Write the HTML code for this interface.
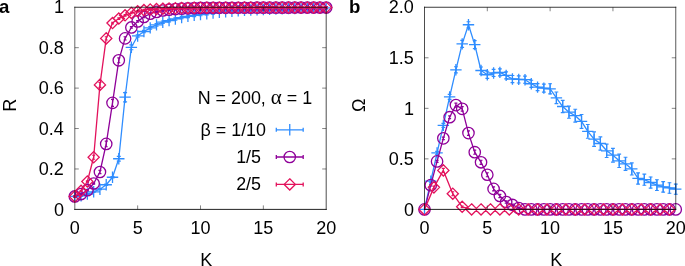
<!DOCTYPE html>
<html lang="en">
<head>
<meta charset="utf-8">
<title>Order parameter R and frequency spread versus coupling K</title>
<style>
html,body{margin:0;padding:0;background:#fff;}
body{width:685px;height:266px;overflow:hidden;}
svg{display:block;}
</style>
</head>
<body>
<svg width="685" height="266" viewBox="0 0 685 266" font-family='"Liberation Sans", Arial, Helvetica, sans-serif' fill="#000">
<rect width="685" height="266" fill="#fff"/>
<g id="panel-a">
<polyline points="74.8,196.46 81.08,195.86 87.37,194.04 93.66,191.81 99.94,189.19 106.22,184.74 112.51,177.26 118.79,158.74 125.08,97.21 131.37,47.28 137.65,35.96 143.94,31.51 150.22,27.87 156.5,24.84 162.79,22.21 169.07,20.59 175.36,18.97 181.64,17.56 187.93,16.35 194.21,15.34 200.5,14.53 206.78,13.72 213.07,13.01 219.36,12.3 225.64,11.7 231.92,11.19 238.21,10.69 244.5,10.28 250.78,9.98 257.06,9.68 263.35,9.47 269.63,9.27 275.92,9.07 282.2,8.87 288.49,8.67 294.77,8.46 301.06,8.36 307.34,8.26 313.63,8.16 319.91,8.06 326.2,7.96" fill="none" stroke="#2f8dff" stroke-width="1.3" stroke-linejoin="round"/>
<path d="M74.8 195.86V197.07M72.8 195.86h4M72.8 197.07h4M81.08 195.25V196.46M79.08 195.25h4M79.08 196.46h4M87.37 193.43V194.64M85.37 193.43h4M85.37 194.64h4M93.66 191.21V192.42M91.66 191.21h4M91.66 192.42h4M99.94 188.58V189.79M97.94 188.58h4M97.94 189.79h4M106.22 184.13V185.34M104.22 184.13h4M104.22 185.34h4M112.51 176.65V177.86M110.51 176.65h4M110.51 177.86h4M118.79 156.32V161.17M116.79 156.32h4M116.79 161.17h4M125.08 92.56V101.86M123.08 92.56h4M123.08 101.86h4M131.37 44.85V49.7M129.37 44.85h4M129.37 49.7h4M137.65 34.74V37.17M135.65 34.74h4M135.65 37.17h4M143.94 30.3V32.72M141.94 30.3h4M141.94 32.72h4M150.22 26.66V29.08M148.22 26.66h4M148.22 29.08h4M156.5 23.62V26.05M154.5 23.62h4M154.5 26.05h4M162.79 21V23.42M160.79 21h4M160.79 23.42h4M169.07 19.38V21.8M167.07 19.38h4M167.07 21.8h4M175.36 17.76V20.19M173.36 17.76h4M173.36 20.19h4M181.64 16.35V18.77M179.64 16.35h4M179.64 18.77h4M187.93 15.13V17.56M185.93 15.13h4M185.93 17.56h4M194.21 14.12V16.55M192.21 14.12h4M192.21 16.55h4M200.5 13.31V15.74M198.5 13.31h4M198.5 15.74h4M206.78 12.51V14.93M204.78 12.51h4M204.78 14.93h4M213.07 11.8V14.22M211.07 11.8h4M211.07 14.22h4M219.36 11.09V13.52M217.36 11.09h4M217.36 13.52h4M225.64 10.48V12.91M223.64 10.48h4M223.64 12.91h4M231.92 9.98V12.4M229.92 9.98h4M229.92 12.4h4M238.21 9.47V11.9M236.21 9.47h4M236.21 11.9h4M244.5 9.07V11.5M242.5 9.07h4M242.5 11.5h4M250.78 8.77V11.19M248.78 8.77h4M248.78 11.19h4M257.06 8.46V10.89M255.06 8.46h4M255.06 10.89h4M263.35 8.26V10.69M261.35 8.26h4M261.35 10.69h4M269.63 8.06V10.48M267.63 8.06h4M267.63 10.48h4M275.92 7.86V10.28M273.92 7.86h4M273.92 10.28h4M282.2 7.65V10.08M280.2 7.65h4M280.2 10.08h4M288.49 7.45V9.88M286.49 7.45h4M286.49 9.88h4M294.77 7.25V9.68M292.77 7.25h4M292.77 9.68h4M301.06 7.15V9.57M299.06 7.15h4M299.06 9.57h4M307.34 7.05V9.47M305.34 7.05h4M305.34 9.47h4M313.63 6.95V9.37M311.63 6.95h4M311.63 9.37h4M319.91 6.85V9.27M317.91 6.85h4M317.91 9.27h4M326.2 6.74V9.17M324.2 6.74h4M324.2 9.17h4" fill="none" stroke="#2f8dff" stroke-width="1.15"/>
<path d="M69.1 196.46h11.4M74.8 190.76v11.4M75.38 195.86h11.4M81.08 190.16v11.4M81.67 194.04h11.4M87.37 188.34v11.4M87.95 191.81h11.4M93.66 186.11v11.4M94.24 189.19h11.4M99.94 183.49v11.4M100.52 184.74h11.4M106.22 179.04v11.4M106.81 177.26h11.4M112.51 171.56v11.4M113.09 158.74h11.4M118.79 153.04v11.4M119.38 97.21h11.4M125.08 91.51v11.4M125.67 47.28h11.4M131.37 41.58v11.4M131.95 35.96h11.4M137.65 30.26v11.4M138.24 31.51h11.4M143.94 25.81v11.4M144.52 27.87h11.4M150.22 22.17v11.4M150.81 24.84h11.4M156.5 19.14v11.4M157.09 22.21h11.4M162.79 16.51v11.4M163.38 20.59h11.4M169.07 14.89v11.4M169.66 18.97h11.4M175.36 13.27v11.4M175.94 17.56h11.4M181.64 11.86v11.4M182.23 16.35h11.4M187.93 10.65v11.4M188.51 15.34h11.4M194.21 9.64v11.4M194.8 14.53h11.4M200.5 8.83v11.4M201.08 13.72h11.4M206.78 8.02v11.4M207.37 13.01h11.4M213.07 7.31v11.4M213.66 12.3h11.4M219.36 6.6v11.4M219.94 11.7h11.4M225.64 6v11.4M226.22 11.19h11.4M231.92 5.49v11.4M232.51 10.69h11.4M238.21 4.99v11.4M238.8 10.28h11.4M244.5 4.58v11.4M245.08 9.98h11.4M250.78 4.28v11.4M251.37 9.68h11.4M257.06 3.98v11.4M257.65 9.47h11.4M263.35 3.77v11.4M263.94 9.27h11.4M269.63 3.57v11.4M270.22 9.07h11.4M275.92 3.37v11.4M276.5 8.87h11.4M282.2 3.17v11.4M282.79 8.67h11.4M288.49 2.97v11.4M289.07 8.46h11.4M294.77 2.76v11.4M295.36 8.36h11.4M301.06 2.66v11.4M301.64 8.26h11.4M307.34 2.56v11.4M307.93 8.16h11.4M313.63 2.46v11.4M314.21 8.06h11.4M319.91 2.36v11.4M320.5 7.96h11.4M326.2 2.26v11.4" fill="none" stroke="#2f8dff" stroke-width="1.3"/>
<polyline points="74.8,196.46 81.08,194.04 87.37,190.2 93.66,183.52 99.94,172 106.22,143.9 112.51,102.87 118.79,60.31 125.08,38.38 131.37,27.47 137.65,21.4 143.94,16.95 150.22,13.72 156.5,11.9 162.79,10.48 169.07,9.68 175.36,9.07 181.64,8.67 187.93,8.36 194.21,8.16 200.5,7.96 206.78,7.86 213.07,7.86 219.36,7.86 225.64,7.86 231.92,7.76 238.21,7.76 244.5,7.76 250.78,7.76 257.06,7.65 263.35,7.65 269.63,7.65 275.92,7.65 282.2,7.65 288.49,7.65 294.77,7.55 301.06,7.55 307.34,7.55 313.63,7.55 319.91,7.55 326.2,7.55" fill="none" stroke="#8f0099" stroke-width="1.3" stroke-linejoin="round"/>
<path d="M74.8 195.86V197.07M73.3 195.86h3M73.3 197.07h3M81.08 193.43V194.64M79.58 193.43h3M79.58 194.64h3M87.37 189.59V190.8M85.87 189.59h3M85.87 190.8h3M93.66 182.92V184.13M92.16 182.92h3M92.16 184.13h3M99.94 170.39V173.62M98.44 170.39h3M98.44 173.62h3M106.22 141.07V146.73M104.72 141.07h3M104.72 146.73h3M112.51 99.43V106.3M111.01 99.43h3M111.01 106.3h3M118.79 57.89V62.74M117.29 57.89h3M117.29 62.74h3M125.08 36.76V40M123.58 36.76h3M123.58 40h3M131.37 26.66V28.27M129.87 26.66h3M129.87 28.27h3M137.65 20.59V22.21M136.15 20.59h3M136.15 22.21h3M143.94 16.14V17.76M142.44 16.14h3M142.44 17.76h3M150.22 12.91V14.53M148.72 12.91h3M148.72 14.53h3M156.5 11.09V12.71M155 11.09h3M155 12.71h3M162.79 9.68V11.29M161.29 9.68h3M161.29 11.29h3M169.07 8.87V10.48M167.57 8.87h3M167.57 10.48h3M175.36 8.26V9.88M173.86 8.26h3M173.86 9.88h3M181.64 7.86V9.47M180.14 7.86h3M180.14 9.47h3M187.93 7.55V9.17M186.43 7.55h3M186.43 9.17h3M194.21 7.35V8.97M192.71 7.35h3M192.71 8.97h3M200.5 7.15V8.77M199 7.15h3M199 8.77h3M206.78 7.05V8.67M205.28 7.05h3M205.28 8.67h3M213.07 7.05V8.67M211.57 7.05h3M211.57 8.67h3M219.36 7.05V8.67M217.86 7.05h3M217.86 8.67h3M225.64 7.05V8.67M224.14 7.05h3M224.14 8.67h3M231.92 6.95V8.56M230.42 6.95h3M230.42 8.56h3M238.21 6.95V8.56M236.71 6.95h3M236.71 8.56h3M244.5 6.95V8.56M243 6.95h3M243 8.56h3M250.78 6.95V8.56M249.28 6.95h3M249.28 8.56h3M257.06 6.85V8.46M255.56 6.85h3M255.56 8.46h3M263.35 6.85V8.46M261.85 6.85h3M261.85 8.46h3M269.63 6.85V8.46M268.13 6.85h3M268.13 8.46h3M275.92 6.85V8.46M274.42 6.85h3M274.42 8.46h3M282.2 6.85V8.46M280.7 6.85h3M280.7 8.46h3M288.49 6.85V8.46M286.99 6.85h3M286.99 8.46h3M294.77 6.74V8.36M293.27 6.74h3M293.27 8.36h3M301.06 6.74V8.36M299.56 6.74h3M299.56 8.36h3M307.34 6.74V8.36M305.84 6.74h3M305.84 8.36h3M313.63 6.74V8.36M312.13 6.74h3M312.13 8.36h3M319.91 6.74V8.36M318.41 6.74h3M318.41 8.36h3M326.2 6.74V8.36M324.7 6.74h3M324.7 8.36h3" fill="none" stroke="#8f0099" stroke-width="1.15"/>
<g fill="none" stroke="#8f0099" stroke-width="1.3"><circle cx="74.8" cy="196.46" r="5.7"/><circle cx="81.08" cy="194.04" r="5.7"/><circle cx="87.37" cy="190.2" r="5.7"/><circle cx="93.66" cy="183.52" r="5.7"/><circle cx="99.94" cy="172" r="5.7"/><circle cx="106.22" cy="143.9" r="5.7"/><circle cx="112.51" cy="102.87" r="5.7"/><circle cx="118.79" cy="60.31" r="5.7"/><circle cx="125.08" cy="38.38" r="5.7"/><circle cx="131.37" cy="27.47" r="5.7"/><circle cx="137.65" cy="21.4" r="5.7"/><circle cx="143.94" cy="16.95" r="5.7"/><circle cx="150.22" cy="13.72" r="5.7"/><circle cx="156.5" cy="11.9" r="5.7"/><circle cx="162.79" cy="10.48" r="5.7"/><circle cx="169.07" cy="9.68" r="5.7"/><circle cx="175.36" cy="9.07" r="5.7"/><circle cx="181.64" cy="8.67" r="5.7"/><circle cx="187.93" cy="8.36" r="5.7"/><circle cx="194.21" cy="8.16" r="5.7"/><circle cx="200.5" cy="7.96" r="5.7"/><circle cx="206.78" cy="7.86" r="5.7"/><circle cx="213.07" cy="7.86" r="5.7"/><circle cx="219.36" cy="7.86" r="5.7"/><circle cx="225.64" cy="7.86" r="5.7"/><circle cx="231.92" cy="7.76" r="5.7"/><circle cx="238.21" cy="7.76" r="5.7"/><circle cx="244.5" cy="7.76" r="5.7"/><circle cx="250.78" cy="7.76" r="5.7"/><circle cx="257.06" cy="7.65" r="5.7"/><circle cx="263.35" cy="7.65" r="5.7"/><circle cx="269.63" cy="7.65" r="5.7"/><circle cx="275.92" cy="7.65" r="5.7"/><circle cx="282.2" cy="7.65" r="5.7"/><circle cx="288.49" cy="7.65" r="5.7"/><circle cx="294.77" cy="7.55" r="5.7"/><circle cx="301.06" cy="7.55" r="5.7"/><circle cx="307.34" cy="7.55" r="5.7"/><circle cx="313.63" cy="7.55" r="5.7"/><circle cx="319.91" cy="7.55" r="5.7"/><circle cx="326.2" cy="7.55" r="5.7"/></g>
<polyline points="74.8,196.46 81.08,190.8 87.37,181.5 93.66,157.25 99.94,84.88 106.22,38.38 112.51,23.02 118.79,18.57 125.08,15.34 131.37,12.91 137.65,11.29 143.94,10.08 150.22,9.47 156.5,9.07 162.79,8.67 169.07,8.46 175.36,8.26 181.64,8.06 187.93,7.96 194.21,7.86 200.5,7.76 206.78,7.65 213.07,7.65 219.36,7.65 225.64,7.65 231.92,7.65 238.21,7.65 244.5,7.55 250.78,7.55 257.06,7.55 263.35,7.55 269.63,7.55 275.92,7.55 282.2,7.45 288.49,7.45 294.77,7.45 301.06,7.45 307.34,7.45 313.63,7.45 319.91,7.45 326.2,7.45" fill="none" stroke="#e3125c" stroke-width="1.3" stroke-linejoin="round"/>
<path d="M74.8 195.86V197.07M73.3 195.86h3M73.3 197.07h3M81.08 190.2V191.41M79.58 190.2h3M79.58 191.41h3M87.37 180.9V182.11M85.87 180.9h3M85.87 182.11h3M93.66 155.22V159.27M92.16 155.22h3M92.16 159.27h3M99.94 82.45V87.3M98.44 82.45h3M98.44 87.3h3M106.22 36.76V40M104.72 36.76h3M104.72 40h3M112.51 22.21V23.83M111.01 22.21h3M111.01 23.83h3M118.79 17.76V19.38M117.29 17.76h3M117.29 19.38h3M125.08 14.53V16.14M123.58 14.53h3M123.58 16.14h3M131.37 12.1V13.72M129.87 12.1h3M129.87 13.72h3M137.65 10.48V12.1M136.15 10.48h3M136.15 12.1h3M143.94 9.27V10.89M142.44 9.27h3M142.44 10.89h3M150.22 8.67V10.28M148.72 8.67h3M148.72 10.28h3M156.5 8.26V9.88M155 8.26h3M155 9.88h3M162.79 7.86V9.47M161.29 7.86h3M161.29 9.47h3M169.07 7.65V9.27M167.57 7.65h3M167.57 9.27h3M175.36 7.45V9.07M173.86 7.45h3M173.86 9.07h3M181.64 7.25V8.87M180.14 7.25h3M180.14 8.87h3M187.93 7.15V8.77M186.43 7.15h3M186.43 8.77h3M194.21 7.05V8.67M192.71 7.05h3M192.71 8.67h3M200.5 6.95V8.56M199 6.95h3M199 8.56h3M206.78 6.85V8.46M205.28 6.85h3M205.28 8.46h3M213.07 6.85V8.46M211.57 6.85h3M211.57 8.46h3M219.36 6.85V8.46M217.86 6.85h3M217.86 8.46h3M225.64 6.85V8.46M224.14 6.85h3M224.14 8.46h3M231.92 6.85V8.46M230.42 6.85h3M230.42 8.46h3M238.21 6.85V8.46M236.71 6.85h3M236.71 8.46h3M244.5 6.74V8.36M243 6.74h3M243 8.36h3M250.78 6.74V8.36M249.28 6.74h3M249.28 8.36h3M257.06 6.74V8.36M255.56 6.74h3M255.56 8.36h3M263.35 6.74V8.36M261.85 6.74h3M261.85 8.36h3M269.63 6.74V8.36M268.13 6.74h3M268.13 8.36h3M275.92 6.74V8.36M274.42 6.74h3M274.42 8.36h3M282.2 6.64V8.26M280.7 6.64h3M280.7 8.26h3M288.49 6.64V8.26M286.99 6.64h3M286.99 8.26h3M294.77 6.64V8.26M293.27 6.64h3M293.27 8.26h3M301.06 6.64V8.26M299.56 6.64h3M299.56 8.26h3M307.34 6.64V8.26M305.84 6.64h3M305.84 8.26h3M313.63 6.64V8.26M312.13 6.64h3M312.13 8.26h3M319.91 6.64V8.26M318.41 6.64h3M318.41 8.26h3M326.2 6.64V8.26M324.7 6.64h3M324.7 8.26h3" fill="none" stroke="#e3125c" stroke-width="1.15"/>
<path d="M74.8 190.86l5.6 5.6l-5.6 5.6l-5.6 -5.6zM81.08 185.2l5.6 5.6l-5.6 5.6l-5.6 -5.6zM87.37 175.9l5.6 5.6l-5.6 5.6l-5.6 -5.6zM93.66 151.65l5.6 5.6l-5.6 5.6l-5.6 -5.6zM99.94 79.28l5.6 5.6l-5.6 5.6l-5.6 -5.6zM106.22 32.78l5.6 5.6l-5.6 5.6l-5.6 -5.6zM112.51 17.42l5.6 5.6l-5.6 5.6l-5.6 -5.6zM118.79 12.97l5.6 5.6l-5.6 5.6l-5.6 -5.6zM125.08 9.74l5.6 5.6l-5.6 5.6l-5.6 -5.6zM131.37 7.31l5.6 5.6l-5.6 5.6l-5.6 -5.6zM137.65 5.69l5.6 5.6l-5.6 5.6l-5.6 -5.6zM143.94 4.48l5.6 5.6l-5.6 5.6l-5.6 -5.6zM150.22 3.87l5.6 5.6l-5.6 5.6l-5.6 -5.6zM156.5 3.47l5.6 5.6l-5.6 5.6l-5.6 -5.6zM162.79 3.07l5.6 5.6l-5.6 5.6l-5.6 -5.6zM169.07 2.86l5.6 5.6l-5.6 5.6l-5.6 -5.6zM175.36 2.66l5.6 5.6l-5.6 5.6l-5.6 -5.6zM181.64 2.46l5.6 5.6l-5.6 5.6l-5.6 -5.6zM187.93 2.36l5.6 5.6l-5.6 5.6l-5.6 -5.6zM194.21 2.26l5.6 5.6l-5.6 5.6l-5.6 -5.6zM200.5 2.16l5.6 5.6l-5.6 5.6l-5.6 -5.6zM206.78 2.05l5.6 5.6l-5.6 5.6l-5.6 -5.6zM213.07 2.05l5.6 5.6l-5.6 5.6l-5.6 -5.6zM219.36 2.05l5.6 5.6l-5.6 5.6l-5.6 -5.6zM225.64 2.05l5.6 5.6l-5.6 5.6l-5.6 -5.6zM231.92 2.05l5.6 5.6l-5.6 5.6l-5.6 -5.6zM238.21 2.05l5.6 5.6l-5.6 5.6l-5.6 -5.6zM244.5 1.95l5.6 5.6l-5.6 5.6l-5.6 -5.6zM250.78 1.95l5.6 5.6l-5.6 5.6l-5.6 -5.6zM257.06 1.95l5.6 5.6l-5.6 5.6l-5.6 -5.6zM263.35 1.95l5.6 5.6l-5.6 5.6l-5.6 -5.6zM269.63 1.95l5.6 5.6l-5.6 5.6l-5.6 -5.6zM275.92 1.95l5.6 5.6l-5.6 5.6l-5.6 -5.6zM282.2 1.85l5.6 5.6l-5.6 5.6l-5.6 -5.6zM288.49 1.85l5.6 5.6l-5.6 5.6l-5.6 -5.6zM294.77 1.85l5.6 5.6l-5.6 5.6l-5.6 -5.6zM301.06 1.85l5.6 5.6l-5.6 5.6l-5.6 -5.6zM307.34 1.85l5.6 5.6l-5.6 5.6l-5.6 -5.6zM313.63 1.85l5.6 5.6l-5.6 5.6l-5.6 -5.6zM319.91 1.85l5.6 5.6l-5.6 5.6l-5.6 -5.6zM326.2 1.85l5.6 5.6l-5.6 5.6l-5.6 -5.6z" fill="none" stroke="#e3125c" stroke-width="1.3" stroke-linejoin="miter"/>
<path d="M137.65 209.4v-4M137.65 7.25v4M200.5 209.4v-4M200.5 7.25v4M263.35 209.4v-4M263.35 7.25v4M74.8 168.97h4M326.2 168.97h-4M74.8 128.54h4M326.2 128.54h-4M74.8 88.11h4M326.2 88.11h-4M74.8 47.68h4M326.2 47.68h-4" fill="none" stroke="#0a0a0a" stroke-width="0.5"/><g fill="none" stroke="#0a0a0a" stroke-linecap="square"><path d="M74.8 7.25V209.4" stroke-width="0.62"/><path d="M326.2 7.25V209.4" stroke-width="0.73"/><path d="M74.8 7.25H326.2" stroke-width="0.8"/><path d="M74.8 209.4H326.2" stroke-width="0.9"/></g>
<text x="63.9" y="215.7" font-size="18" text-anchor="end">0</text>
<text x="63.9" y="175.27" font-size="18" text-anchor="end">0.2</text>
<text x="63.9" y="134.84" font-size="18" text-anchor="end">0.4</text>
<text x="63.9" y="94.41" font-size="18" text-anchor="end">0.6</text>
<text x="63.9" y="53.98" font-size="18" text-anchor="end">0.8</text>
<text x="63.9" y="12.95" font-size="18" text-anchor="end">1</text>
<text x="74.8" y="233.7" font-size="18" text-anchor="middle">0</text>
<text x="137.65" y="233.7" font-size="18" text-anchor="middle">5</text>
<text x="200.5" y="233.7" font-size="18" text-anchor="middle">10</text>
<text x="263.35" y="233.7" font-size="18" text-anchor="middle">15</text>
<text x="326.2" y="233.7" font-size="18" text-anchor="middle">20</text>
<text x="200.3" y="265.7" font-size="18" text-anchor="start">K</text>
<text transform="translate(15.9 105.3) rotate(-90)" font-size="18" text-anchor="middle">R</text>
<text x="-0.9" y="13.45" font-size="18.6" text-anchor="start" font-weight="bold">a</text>
<text x="197.7" y="103.7" font-size="17.9" text-anchor="start">N = 200, <tspan font-family='"Liberation Serif", serif' font-size="21">α</tspan> = 1</text>
<text x="266" y="135.8" font-size="17.9" text-anchor="end">β = 1/10</text>
<text x="261" y="163" font-size="17.9" text-anchor="end">1/5</text>
<text x="261" y="190.2" font-size="17.9" text-anchor="end">2/5</text>
<path d="M276.3 129.8H303.2M276.3 127.8v4M303.2 127.8v4" fill="none" stroke="#2f8dff" stroke-width="1.3"/>
<path d="M276.3 157H303.2M276.3 155v4M303.2 155v4" fill="none" stroke="#8f0099" stroke-width="1.3"/>
<path d="M276.3 184.4H303.2M276.3 182.4v4M303.2 182.4v4" fill="none" stroke="#e3125c" stroke-width="1.3"/>
<path d="M289.75 124.1v11.4" fill="none" stroke="#2f8dff" stroke-width="1.3"/>
<circle cx="289.75" cy="157" r="5.7" fill="none" stroke="#8f0099" stroke-width="1.3"/>
<path d="M289.75 178.8l5.6 5.6l-5.6 5.6l-5.6 -5.6z" fill="none" stroke="#e3125c" stroke-width="1.3"/>
</g>
<g id="panel-b">
<polyline points="424.5,209.4 430.78,181.1 437.06,152.9 443.34,125.41 449.62,96.9 455.91,69.82 462.19,43.84 468.47,24.74 474.75,44.65 481.03,70.52 487.31,74.77 493.59,72.95 499.88,72.34 506.16,75.37 512.44,79.01 518.72,79.42 525,79.72 531.28,83.76 537.56,87.1 543.84,88.11 550.12,88.82 556.41,97.81 562.69,106.51 568.97,112.17 575.25,115.7 581.53,121.46 587.81,131.37 594.09,139.15 600.38,143.5 606.66,150.78 612.94,155.22 619.22,160.78 625.5,163.82 631.78,168.97 638.06,178.47 644.34,179.68 650.62,182.51 656.91,185.14 663.19,186.86 669.47,187.97 675.75,189.19" fill="none" stroke="#2f8dff" stroke-width="1.3" stroke-linejoin="round"/>
<path d="M430.78 180.09V182.11M428.88 180.09h3.8M428.88 182.11h3.8M437.06 151.38V154.42M435.16 151.38h3.8M435.16 154.42h3.8M443.34 123.39V127.43M441.44 123.39h3.8M441.44 127.43h3.8M449.62 94.38V99.43M447.73 94.38h3.8M447.73 99.43h3.8M455.91 66.78V72.85M454.01 66.78h3.8M454.01 72.85h3.8M462.19 40.3V47.38M460.29 40.3h3.8M460.29 47.38h3.8M468.47 21.7V27.77M466.57 21.7h3.8M466.57 27.77h3.8M474.75 40.6V48.69M472.85 40.6h3.8M472.85 48.69h3.8M481.03 66.99V74.06M479.13 66.99h3.8M479.13 74.06h3.8M487.31 71.23V78.31M485.41 71.23h3.8M485.41 78.31h3.8M493.59 69.41V76.49M491.69 69.41h3.8M491.69 76.49h3.8M499.88 68.8V75.88M497.98 68.8h3.8M497.98 75.88h3.8M506.16 71.84V78.91M504.26 71.84h3.8M504.26 78.91h3.8M512.44 75.48V82.55M510.54 75.48h3.8M510.54 82.55h3.8M518.72 75.88V82.96M516.82 75.88h3.8M516.82 82.96h3.8M525 76.18V83.26M523.1 76.18h3.8M523.1 83.26h3.8M531.28 80.23V87.3M529.38 80.23h3.8M529.38 87.3h3.8M537.56 83.56V90.64M535.66 83.56h3.8M535.66 90.64h3.8M543.84 84.07V92.15M541.94 84.07h3.8M541.94 92.15h3.8M550.12 83.76V93.87M548.23 83.76h3.8M548.23 93.87h3.8M556.41 91.95V103.68M554.51 91.95h3.8M554.51 103.68h3.8M562.69 100.44V112.57M560.79 100.44h3.8M560.79 112.57h3.8M568.97 106.1V118.23M567.07 106.1h3.8M567.07 118.23h3.8M575.25 109.23V122.17M573.35 109.23h3.8M573.35 122.17h3.8M581.53 114.49V128.44M579.63 114.49h3.8M579.63 128.44h3.8M587.81 124.5V138.24M585.91 124.5h3.8M585.91 138.24h3.8M594.09 131.88V146.43M592.19 131.88h3.8M592.19 146.43h3.8M600.38 136.83V150.17M598.48 136.83h3.8M598.48 150.17h3.8M606.66 144.11V157.45M604.76 144.11h3.8M604.76 157.45h3.8M612.94 148.35V162.1M611.04 148.35h3.8M611.04 162.1h3.8M619.22 154.11V167.45M617.32 154.11h3.8M617.32 167.45h3.8M625.5 157.25V170.39M623.6 157.25h3.8M623.6 170.39h3.8M631.78 162.91V175.03M629.88 162.91h3.8M629.88 175.03h3.8M638.06 172.81V184.13M636.16 172.81h3.8M636.16 184.13h3.8M644.34 174.12V185.24M642.44 174.12h3.8M642.44 185.24h3.8M650.62 176.95V188.07M648.73 176.95h3.8M648.73 188.07h3.8M656.91 179.79V190.5M655.01 179.79h3.8M655.01 190.5h3.8M663.19 181.6V192.12M661.29 181.6h3.8M661.29 192.12h3.8M669.47 182.72V193.23M667.57 182.72h3.8M667.57 193.23h3.8M675.75 184.13V194.24M673.85 184.13h3.8M673.85 194.24h3.8" fill="none" stroke="#2f8dff" stroke-width="1.15"/>
<path d="M418.8 209.4h11.4M424.5 203.7v11.4M425.08 181.1h11.4M430.78 175.4v11.4M431.36 152.9h11.4M437.06 147.2v11.4M437.64 125.41h11.4M443.34 119.71v11.4M443.93 96.9h11.4M449.62 91.2v11.4M450.21 69.82h11.4M455.91 64.12v11.4M456.49 43.84h11.4M462.19 38.14v11.4M462.77 24.74h11.4M468.47 19.04v11.4M469.05 44.65h11.4M474.75 38.95v11.4M475.33 70.52h11.4M481.03 64.82v11.4M481.61 74.77h11.4M487.31 69.07v11.4M487.89 72.95h11.4M493.59 67.25v11.4M494.18 72.34h11.4M499.88 66.64v11.4M500.46 75.37h11.4M506.16 69.67v11.4M506.74 79.01h11.4M512.44 73.31v11.4M513.02 79.42h11.4M518.72 73.72v11.4M519.3 79.72h11.4M525 74.02v11.4M525.58 83.76h11.4M531.28 78.06v11.4M531.86 87.1h11.4M537.56 81.4v11.4M538.14 88.11h11.4M543.84 82.41v11.4M544.42 88.82h11.4M550.12 83.12v11.4M550.71 97.81h11.4M556.41 92.11v11.4M556.99 106.51h11.4M562.69 100.81v11.4M563.27 112.17h11.4M568.97 106.47v11.4M569.55 115.7h11.4M575.25 110v11.4M575.83 121.46h11.4M581.53 115.76v11.4M582.11 131.37h11.4M587.81 125.67v11.4M588.39 139.15h11.4M594.09 133.45v11.4M594.67 143.5h11.4M600.38 137.8v11.4M600.96 150.78h11.4M606.66 145.08v11.4M607.24 155.22h11.4M612.94 149.52v11.4M613.52 160.78h11.4M619.22 155.08v11.4M619.8 163.82h11.4M625.5 158.12v11.4M626.08 168.97h11.4M631.78 163.27v11.4M632.36 178.47h11.4M638.06 172.77v11.4M638.64 179.68h11.4M644.34 173.98v11.4M644.92 182.51h11.4M650.62 176.81v11.4M651.21 185.14h11.4M656.91 179.44v11.4M657.49 186.86h11.4M663.19 181.16v11.4M663.77 187.97h11.4M669.47 182.27v11.4M670.05 189.19h11.4M675.75 183.49v11.4" fill="none" stroke="#2f8dff" stroke-width="1.3"/>
<polyline points="424.5,209.4 430.78,185.14 437.06,161.39 443.34,138.34 449.62,117.22 455.91,105.09 462.19,108.83 468.47,133.09 474.75,152.19 481.03,162.3 487.31,174.73 493.59,188.88 499.88,195.96 506.16,202.02 512.44,204.95 518.72,207.98 525,209.4 531.28,209.4 537.56,209.4 543.84,209.4 550.12,209.4 556.41,209.4 562.69,209.4 568.97,209.4 575.25,209.4 581.53,209.4 587.81,209.4 594.09,209.4 600.38,209.4 606.66,209.4 612.94,209.4 619.22,209.4 625.5,209.4 631.78,209.4 638.06,209.4 644.34,209.4 650.62,209.4 656.91,209.4 663.19,209.4 669.47,209.4 675.75,209.4" fill="none" stroke="#8f0099" stroke-width="1.3" stroke-linejoin="round"/>
<path d="M430.78 184.33V185.95M429.28 184.33h3M429.28 185.95h3M437.06 160.38V162.4M435.56 160.38h3M435.56 162.4h3M443.34 137.13V139.56M441.84 137.13h3M441.84 139.56h3M449.62 115.8V118.63M448.12 115.8h3M448.12 118.63h3M455.91 103.07V107.11M454.41 103.07h3M454.41 107.11h3M462.19 106.61V111.05M460.69 106.61h3M460.69 111.05h3M468.47 130.86V135.31M466.97 130.86h3M466.97 135.31h3M474.75 150.17V154.21M473.25 150.17h3M473.25 154.21h3M481.03 160.28V164.32M479.53 160.28h3M479.53 164.32h3M487.31 172.71V176.75M485.81 172.71h3M485.81 176.75h3M493.59 186.86V190.9M492.09 186.86h3M492.09 190.9h3M499.88 194.34V197.57M498.38 194.34h3M498.38 197.57h3M506.16 200.81V203.23M504.66 200.81h3M504.66 203.23h3M512.44 204.14V205.76M510.94 204.14h3M510.94 205.76h3M518.72 207.48V208.49M517.22 207.48h3M517.22 208.49h3" fill="none" stroke="#8f0099" stroke-width="1.15"/>
<g fill="none" stroke="#8f0099" stroke-width="1.3"><circle cx="424.5" cy="209.4" r="5.7"/><circle cx="430.78" cy="185.14" r="5.7"/><circle cx="437.06" cy="161.39" r="5.7"/><circle cx="443.34" cy="138.34" r="5.7"/><circle cx="449.62" cy="117.22" r="5.7"/><circle cx="455.91" cy="105.09" r="5.7"/><circle cx="462.19" cy="108.83" r="5.7"/><circle cx="468.47" cy="133.09" r="5.7"/><circle cx="474.75" cy="152.19" r="5.7"/><circle cx="481.03" cy="162.3" r="5.7"/><circle cx="487.31" cy="174.73" r="5.7"/><circle cx="493.59" cy="188.88" r="5.7"/><circle cx="499.88" cy="195.96" r="5.7"/><circle cx="506.16" cy="202.02" r="5.7"/><circle cx="512.44" cy="204.95" r="5.7"/><circle cx="518.72" cy="207.98" r="5.7"/><circle cx="525" cy="209.4" r="5.7"/><circle cx="531.28" cy="209.4" r="5.7"/><circle cx="537.56" cy="209.4" r="5.7"/><circle cx="543.84" cy="209.4" r="5.7"/><circle cx="550.12" cy="209.4" r="5.7"/><circle cx="556.41" cy="209.4" r="5.7"/><circle cx="562.69" cy="209.4" r="5.7"/><circle cx="568.97" cy="209.4" r="5.7"/><circle cx="575.25" cy="209.4" r="5.7"/><circle cx="581.53" cy="209.4" r="5.7"/><circle cx="587.81" cy="209.4" r="5.7"/><circle cx="594.09" cy="209.4" r="5.7"/><circle cx="600.38" cy="209.4" r="5.7"/><circle cx="606.66" cy="209.4" r="5.7"/><circle cx="612.94" cy="209.4" r="5.7"/><circle cx="619.22" cy="209.4" r="5.7"/><circle cx="625.5" cy="209.4" r="5.7"/><circle cx="631.78" cy="209.4" r="5.7"/><circle cx="638.06" cy="209.4" r="5.7"/><circle cx="644.34" cy="209.4" r="5.7"/><circle cx="650.62" cy="209.4" r="5.7"/><circle cx="656.91" cy="209.4" r="5.7"/><circle cx="663.19" cy="209.4" r="5.7"/><circle cx="669.47" cy="209.4" r="5.7"/><circle cx="675.75" cy="209.4" r="5.7"/></g>
<polyline points="424.5,209.4 433.92,187.37 443.34,170.39 452.77,193.73 462.19,206.77 471.61,209.4 481.03,209.4 490.45,209.4 499.88,209.4 509.3,209.4 518.72,209.4 528.14,209.4 537.56,209.4 546.98,209.4 556.41,209.4 565.83,209.4 575.25,209.4 584.67,209.4 594.09,209.4 603.52,209.4 612.94,209.4 622.36,209.4 631.78,209.4 641.2,209.4 650.62,209.4 660.05,209.4 669.47,209.4" fill="none" stroke="#e3125c" stroke-width="1.3" stroke-linejoin="round"/>
<path d="M433.92 186.15V188.58M432.42 186.15h3M432.42 188.58h3M443.34 168.36V172.41M441.84 168.36h3M441.84 172.41h3M452.77 191.71V195.75M451.27 191.71h3M451.27 195.75h3M462.19 205.96V207.58M460.69 205.96h3M460.69 207.58h3" fill="none" stroke="#e3125c" stroke-width="1.15"/>
<path d="M424.5 203.8l5.6 5.6l-5.6 5.6l-5.6 -5.6zM433.92 181.77l5.6 5.6l-5.6 5.6l-5.6 -5.6zM443.34 164.79l5.6 5.6l-5.6 5.6l-5.6 -5.6zM452.77 188.13l5.6 5.6l-5.6 5.6l-5.6 -5.6zM462.19 201.17l5.6 5.6l-5.6 5.6l-5.6 -5.6zM471.61 203.8l5.6 5.6l-5.6 5.6l-5.6 -5.6zM481.03 203.8l5.6 5.6l-5.6 5.6l-5.6 -5.6zM490.45 203.8l5.6 5.6l-5.6 5.6l-5.6 -5.6zM499.88 203.8l5.6 5.6l-5.6 5.6l-5.6 -5.6zM509.3 203.8l5.6 5.6l-5.6 5.6l-5.6 -5.6zM518.72 203.8l5.6 5.6l-5.6 5.6l-5.6 -5.6zM528.14 203.8l5.6 5.6l-5.6 5.6l-5.6 -5.6zM537.56 203.8l5.6 5.6l-5.6 5.6l-5.6 -5.6zM546.98 203.8l5.6 5.6l-5.6 5.6l-5.6 -5.6zM556.41 203.8l5.6 5.6l-5.6 5.6l-5.6 -5.6zM565.83 203.8l5.6 5.6l-5.6 5.6l-5.6 -5.6zM575.25 203.8l5.6 5.6l-5.6 5.6l-5.6 -5.6zM584.67 203.8l5.6 5.6l-5.6 5.6l-5.6 -5.6zM594.09 203.8l5.6 5.6l-5.6 5.6l-5.6 -5.6zM603.52 203.8l5.6 5.6l-5.6 5.6l-5.6 -5.6zM612.94 203.8l5.6 5.6l-5.6 5.6l-5.6 -5.6zM622.36 203.8l5.6 5.6l-5.6 5.6l-5.6 -5.6zM631.78 203.8l5.6 5.6l-5.6 5.6l-5.6 -5.6zM641.2 203.8l5.6 5.6l-5.6 5.6l-5.6 -5.6zM650.62 203.8l5.6 5.6l-5.6 5.6l-5.6 -5.6zM660.05 203.8l5.6 5.6l-5.6 5.6l-5.6 -5.6zM669.47 203.8l5.6 5.6l-5.6 5.6l-5.6 -5.6z" fill="none" stroke="#e3125c" stroke-width="1.3" stroke-linejoin="miter"/>
<path d="M487.31 209.4v-4M487.31 7.25v4M550.12 209.4v-4M550.12 7.25v4M612.94 209.4v-4M612.94 7.25v4M424.5 158.86h4M675.75 158.86h-4M424.5 108.33h4M675.75 108.33h-4M424.5 57.79h4M675.75 57.79h-4" fill="none" stroke="#0a0a0a" stroke-width="0.5"/><g fill="none" stroke="#0a0a0a" stroke-linecap="square"><path d="M424.5 7.25V209.4" stroke-width="0.73"/><path d="M675.75 7.25V209.4" stroke-width="0.68"/><path d="M424.5 7.25H675.75" stroke-width="0.8"/><path d="M424.5 209.4H675.75" stroke-width="0.9"/></g>
<text x="413.9" y="215.7" font-size="18" text-anchor="end">0</text>
<text x="413.9" y="165.16" font-size="18" text-anchor="end">0.5</text>
<text x="413.9" y="114.62" font-size="18" text-anchor="end">1</text>
<text x="413.9" y="64.09" font-size="18" text-anchor="end">1.5</text>
<text x="413.9" y="12.95" font-size="18" text-anchor="end">2.0</text>
<text x="424.5" y="233.7" font-size="18" text-anchor="middle">0</text>
<text x="487.31" y="233.7" font-size="18" text-anchor="middle">5</text>
<text x="550.12" y="233.7" font-size="18" text-anchor="middle">10</text>
<text x="612.94" y="233.7" font-size="18" text-anchor="middle">15</text>
<text x="675.75" y="233.7" font-size="18" text-anchor="middle">20</text>
<text x="550.3" y="265.7" font-size="18" text-anchor="start">K</text>
<text transform="translate(365.4 105.2) rotate(-90)" font-size="18" text-anchor="middle">Ω</text>
<text x="349.1" y="13.45" font-size="18.6" text-anchor="start" font-weight="bold">b</text>
</g>
</svg>
</body>
</html>
